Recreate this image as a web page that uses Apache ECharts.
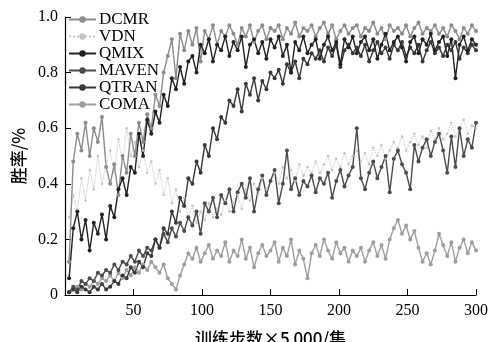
<!DOCTYPE html>
<html>
<head>
<meta charset="utf-8">
<script src="https://cdn.jsdelivr.net/npm/echarts@6/dist/echarts.min.js"></script>
<style>
html, body { margin: 0; padding: 0; background: #fff; }
#main { width: 491px; height: 342px; }
</style>
</head>
<body>
<div id="main"></div>
<script>
// 训练步数（×5 000 集），每 3 步取一个点
var steps = [];
for (var s = 3; s <= 300; s += 3) steps.push(s);

var seriesNames = ['DCMR', 'VDN', 'QMIX', 'MAVEN', 'QTRAN', 'COMA'];

var dcmr = [
    0.12, 0.48, 0.58, 0.52, 0.62, 0.5, 0.6, 0.55, 0.64, 0.46,
    0.4, 0.47, 0.36, 0.5, 0.44, 0.58, 0.5, 0.62, 0.55, 0.65,
    0.6, 0.72, 0.68, 0.8, 0.86, 0.92, 0.78, 0.94, 0.88, 0.95,
    0.9, 0.96, 0.84, 0.95, 0.92, 0.97, 0.9, 0.95, 0.93, 0.97,
    0.94, 0.9, 0.96, 0.93, 0.97, 0.91, 0.95, 0.97, 0.92, 0.96,
    0.95, 0.97, 0.92, 0.96, 0.94, 0.98, 0.93, 0.96, 0.95, 0.97,
    0.93, 0.96, 0.98, 0.94, 0.97, 0.92, 0.95, 0.97, 0.94, 0.96,
    0.97, 0.93, 0.96, 0.95, 0.98, 0.94, 0.96, 0.92, 0.97, 0.95,
    0.96, 0.94, 0.97, 0.93, 0.96, 0.98, 0.94, 0.96, 0.95, 0.97,
    0.94, 0.96, 0.93, 0.97, 0.95, 0.92, 0.96, 0.94, 0.97, 0.95
];
var vdn = [
    0.28, 0.36, 0.3, 0.42, 0.34, 0.45, 0.38, 0.5, 0.4, 0.47,
    0.52, 0.44, 0.56, 0.48, 0.6, 0.5, 0.55, 0.46, 0.52, 0.44,
    0.48, 0.4, 0.45, 0.36, 0.42, 0.33, 0.38, 0.3, 0.35, 0.28,
    0.32, 0.26, 0.3, 0.27, 0.33, 0.28, 0.31, 0.29, 0.34, 0.3,
    0.33, 0.36, 0.31, 0.38, 0.34, 0.4, 0.36, 0.42, 0.38, 0.41,
    0.44, 0.4, 0.46, 0.42, 0.45, 0.41, 0.47, 0.43, 0.46, 0.44,
    0.48, 0.44, 0.47, 0.5, 0.45, 0.49, 0.46, 0.51, 0.47, 0.5,
    0.52, 0.48, 0.51, 0.47, 0.53, 0.5, 0.54, 0.49, 0.52, 0.55,
    0.53, 0.57, 0.52, 0.55, 0.58, 0.54, 0.57, 0.53, 0.59, 0.56,
    0.6, 0.56, 0.58, 0.62, 0.57, 0.6, 0.63, 0.58, 0.61, 0.6
];
var qmix = [
    0.06, 0.24, 0.3, 0.2, 0.27, 0.16, 0.26, 0.22, 0.29, 0.2,
    0.32, 0.28, 0.38, 0.42, 0.36, 0.46, 0.44, 0.58, 0.5, 0.63,
    0.58, 0.66, 0.62, 0.72, 0.68, 0.78, 0.74, 0.82, 0.76, 0.84,
    0.86, 0.8, 0.9, 0.87, 0.92, 0.84, 0.9, 0.88, 0.93, 0.86,
    0.91, 0.88, 0.93, 0.82, 0.9, 0.92, 0.87, 0.91, 0.85, 0.92,
    0.89, 0.93, 0.86, 0.9, 0.8, 0.91, 0.88, 0.93, 0.87, 0.9,
    0.92, 0.85, 0.9, 0.93, 0.88, 0.91, 0.83, 0.92, 0.89, 0.93,
    0.87, 0.91, 0.93, 0.88, 0.92, 0.85, 0.9, 0.94, 0.88, 0.91,
    0.93, 0.89, 0.84, 0.91, 0.93, 0.87, 0.92, 0.9, 0.94, 0.88,
    0.91, 0.93, 0.86, 0.92, 0.78, 0.9, 0.93, 0.88, 0.92, 0.9
];
var maven = [
    0.01, 0.03, 0.02, 0.05, 0.04, 0.06, 0.05, 0.08, 0.07, 0.09,
    0.08, 0.11, 0.09, 0.12, 0.11, 0.14, 0.12, 0.16, 0.14, 0.17,
    0.16, 0.2, 0.17, 0.22, 0.19, 0.24, 0.21, 0.26, 0.23, 0.28,
    0.25, 0.3, 0.22, 0.33, 0.3, 0.35, 0.28, 0.36, 0.33, 0.38,
    0.3, 0.37, 0.4, 0.35, 0.42, 0.3, 0.38, 0.43, 0.36, 0.41,
    0.45, 0.33, 0.4, 0.52, 0.38, 0.42, 0.36, 0.41, 0.39, 0.43,
    0.37, 0.42, 0.4, 0.44, 0.35, 0.41, 0.45, 0.39, 0.43, 0.46,
    0.6, 0.42, 0.38, 0.44, 0.48, 0.42, 0.46, 0.5, 0.37, 0.49,
    0.52, 0.47, 0.44, 0.38, 0.54, 0.48, 0.53, 0.56, 0.5, 0.55,
    0.58, 0.52, 0.44, 0.57, 0.46, 0.6, 0.5, 0.56, 0.53, 0.62
];
var qtran = [
    0.01, 0.02, 0.01, 0.03, 0.02, 0.01, 0.03, 0.02, 0.04, 0.02,
    0.03, 0.05, 0.04, 0.07, 0.06, 0.1, 0.08, 0.12, 0.1, 0.15,
    0.14, 0.2, 0.17, 0.24, 0.22, 0.3, 0.26, 0.35, 0.32, 0.42,
    0.4, 0.48, 0.44, 0.54, 0.5, 0.6, 0.56, 0.64, 0.62, 0.7,
    0.68, 0.74, 0.66, 0.76, 0.72, 0.78, 0.7, 0.77, 0.74, 0.8,
    0.78, 0.81, 0.76, 0.83, 0.8, 0.84, 0.78, 0.85, 0.83, 0.87,
    0.85, 0.88, 0.84, 0.89, 0.86, 0.9, 0.82, 0.88, 0.9, 0.87,
    0.89, 0.86, 0.9, 0.84, 0.88, 0.91, 0.87, 0.89, 0.85, 0.9,
    0.88, 0.91, 0.86, 0.89, 0.87, 0.9, 0.84, 0.88, 0.91, 0.87,
    0.89, 0.86, 0.9, 0.88, 0.91, 0.85, 0.89, 0.87, 0.9, 0.88
];
var coma = [
    0.01, 0.02, 0.03, 0.02, 0.04, 0.03, 0.05, 0.04, 0.06, 0.05,
    0.07, 0.05, 0.08, 0.06, 0.09, 0.07, 0.1, 0.08, 0.11, 0.09,
    0.12, 0.1, 0.08, 0.11, 0.06, 0.04, 0.02, 0.07, 0.11, 0.15,
    0.13, 0.17, 0.12, 0.15, 0.18, 0.13, 0.16, 0.14, 0.19, 0.12,
    0.16, 0.14, 0.2, 0.13, 0.17, 0.1, 0.15, 0.18, 0.14, 0.16,
    0.19, 0.12, 0.17, 0.14, 0.2, 0.11, 0.16, 0.13, 0.06, 0.15,
    0.18, 0.14, 0.2, 0.16, 0.13, 0.19, 0.15, 0.17, 0.12, 0.16,
    0.14, 0.17, 0.12, 0.16, 0.19, 0.14, 0.18, 0.13, 0.2, 0.24,
    0.27, 0.22, 0.25, 0.2, 0.23, 0.17, 0.12, 0.15, 0.11, 0.16,
    0.22, 0.18, 0.14, 0.19, 0.12, 0.17, 0.2, 0.15, 0.19, 0.16
];

var seriesData = {
    DCMR: dcmr, VDN: vdn, QMIX: qmix, MAVEN: maven, QTRAN: qtran, COMA: coma
};
// 灰度配色（原图为黑白印刷）
var seriesColors = {
    DCMR: '#8c8c8c', VDN: '#c4c4c4', QMIX: '#222222',
    MAVEN: '#4c4c4c', QTRAN: '#383838', COMA: '#9e9e9e'
};
// 绘制顺序：浅色在下
var drawOrder = ['VDN', 'COMA', 'DCMR', 'MAVEN', 'QTRAN', 'QMIX'];

function pairs(arr) {
    return arr.map(function (v, i) { return [steps[i], v]; });
}

var serif = '"Liberation Serif", "Times New Roman", serif';
var cjk = '"Noto Sans CJK SC", sans-serif';

var series = drawOrder.map(function (name) {
    var light = name === 'VDN';
    return {
        name: name,
        type: 'line',
        data: pairs(seriesData[name]),
        symbol: 'circle',
        symbolSize: light ? 2.5 : 4,
        showSymbol: true,
        color: seriesColors[name],
        lineStyle: { width: light ? 1 : 1.4, type: light ? 'dotted' : 'solid', color: seriesColors[name] },
        itemStyle: { color: seriesColors[name] },
        emphasis: { disabled: true }
    };
});

var myChart = echarts.init(document.getElementById('main'));
var option = {
    animation: false,
    backgroundColor: '#fff',
    grid: { left: 65, right: 15, top: 17, bottom: 47, outerBoundsMode: 'none', containLabel: false },
    legend: {
        data: seriesNames,
        orient: 'vertical',
        left: 68,
        top: 11,
        itemWidth: 27,
        itemHeight: 8,
        itemGap: 0,
        padding: 0,
        textStyle: { fontFamily: serif, fontSize: 17, color: '#000', lineHeight: 17, padding: [0, 0, 0, -2] }
    },
    xAxis: {
        type: 'value',
        min: 0,
        max: 300,
        interval: 50,
        name: '训练步数×5 000/集',
        nameLocation: 'middle',
        nameGap: 35,
        nameTextStyle: { fontFamily: cjk, fontSize: 17, color: '#000', fontWeight: 500 },
        axisLine: { lineStyle: { color: '#000', width: 1.2 } },
        axisTick: { inside: true, length: 6, lineStyle: { color: '#000' } },
        axisLabel: {
            margin: 8,
            fontFamily: serif, fontSize: 16, color: '#000',
            formatter: function (v) { return v === 0 ? '' : String(v); }
        },
        splitLine: { show: false }
    },
    yAxis: {
        type: 'value',
        min: 0,
        max: 1,
        interval: 0.2,
        name: '胜率/%',
        nameLocation: 'middle',
        nameRotate: 90,
        nameGap: 38,
        nameTextStyle: { fontFamily: cjk, fontSize: 17, color: '#000', fontWeight: 500 },
        axisLine: { show: true, lineStyle: { color: '#000', width: 1.2 } },
        axisTick: { show: true, inside: true, length: 6, lineStyle: { color: '#000' } },
        axisLabel: {
            margin: 7,
            fontFamily: serif, fontSize: 16, color: '#000',
            formatter: function (v) { return v === 0 ? '0' : v.toFixed(1); }
        },
        splitLine: { show: false }
    },
    series: series
};
myChart.setOption(option, true);
</script>
</body>
</html>
